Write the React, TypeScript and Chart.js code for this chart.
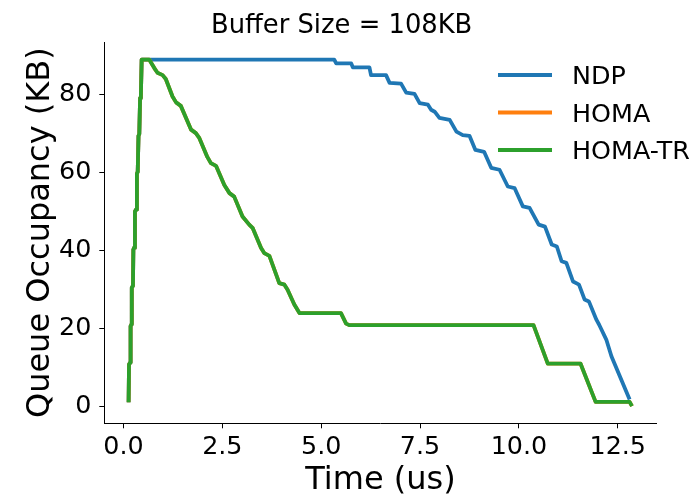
import React, { useEffect, useRef } from "react";
import { Chart, registerables } from "chart.js";

Chart.register(...registerables);

// ---- Data ----
const chartTitle = "Buffer Size = 108KB";
const xAxisTitle = "Time (us)";
const yAxisTitle = "Queue Occupancy (KB)";

const xTicks = [0, 2.5, 5, 7.5, 10, 12.5];
const xTickLabels = ["0.0", "2.5", "5.0", "7.5", "10.0", "12.5"];
const yTicks = [0, 20, 40, 60, 80];
const yTickLabels = ["0", "20", "40", "60", "80"];

const seriesLabels = ["NDP", "HOMA", "HOMA-TR"];
const seriesColors = ["#1f77b4", "#ff7f0e", "#2ca02c"];

// shared initial ramp (all three protocols fill the buffer identically)
const rampTime = [0.13, 0.14, 0.17, 0.18, 0.2, 0.21, 0.24, 0.25, 0.27, 0.29, 0.32, 0.34, 0.36, 0.38, 0.4, 0.42, 0.44, 0.46, 0.48];
const rampQueue = [1, 10.7, 11.2, 20.5, 21, 30.4, 30.9, 40.2, 40.7, 50, 50.5, 59.7, 60.2, 69.4, 69.9, 79.1, 79.6, 89, 89];

const ndpTime = [
  ...rampTime,
  5.33, 5.38, 5.76, 5.8, 6.22, 6.26, 6.64, 6.73, 7.02, 7.15, 7.36, 7.49, 7.7, 7.78, 7.87, 7.99,
  8.25, 8.42, 8.58, 8.75, 8.9, 9.12, 9.3, 9.51, 9.72, 9.89, 10.1, 10.27, 10.5, 10.66, 10.83,
  10.96, 11.08, 11.2, 11.37, 11.52, 11.66, 11.77, 11.96, 12.03, 12.21, 12.34, 12.8,
];
const ndpQueue = [
  ...rampQueue,
  89, 88, 88, 87, 87, 85, 85, 83, 82.8, 80.5, 80.2, 77.8, 77.4, 76.1, 75.6, 74,
  73.5, 70.5, 69.6, 69.4, 65.8, 65.3, 61.2, 60.7, 56.4, 56, 51.3, 50.9, 46.6, 46.1, 41.5,
  41, 37.2, 36.8, 32, 31.2, 27.4, 26.9, 22.2, 20.9, 17.1, 12.8, 1.7,
];

const homaTrTime = [
  ...rampTime,
  0.65, 0.78, 0.86, 0.99, 1.07, 1.24, 1.33, 1.45, 1.71, 1.83, 1.92, 2.12, 2.21, 2.34, 2.55,
  2.68, 2.8, 3.01, 3.18, 3.27, 3.48, 3.56, 3.69, 3.94, 4.07, 4.15, 4.32, 4.45, 5.5, 5.63,
  5.71, 10.37, 10.73, 11.56, 11.94, 12.8, 12.86,
];
const homaTrQueue = [
  ...rampQueue,
  89, 86.8, 85.6, 85, 84, 79.5, 78, 77.1, 71, 70.1, 68.8, 64, 62.4, 61.7, 56.8,
  54.7, 53.8, 48.7, 46.6, 45.7, 40.6, 39.3, 38.6, 31.6, 31.2, 29.9, 26.1, 23.9, 23.9, 21.2,
  20.8, 20.8, 10.9, 10.9, 1.1, 1.1, 0,
];

// HOMA coincides with HOMA-TR (fully hidden beneath it in the reference)
const homaTime = [...homaTrTime];
const homaQueue = [...homaTrQueue];

const FONT = "'DejaVu Sans', 'Noto Sans', sans-serif";

const toPoints = (xs: number[], ys: number[]) => xs.map((x, i) => ({ x, y: ys[i] }));

const overlayPlugin = {
  id: "overlay",
  afterDraw(chart: any) {
    const c = chart.ctx as CanvasRenderingContext2D;
    c.save();
    c.fillStyle = "#000";
    c.font = `25.8px ${FONT}`;
    c.textAlign = "left";
    c.textBaseline = "alphabetic";
    c.fillText(chartTitle, 211, 33);

    // legend (upper right, inside axes, no frame)
    c.font = `25.4px ${FONT}`;
    chart.data.datasets.forEach((ds: any, i: number) => {
      const y = 75 + i * 37.5;
      c.strokeStyle = ds.borderColor;
      c.lineWidth = 3.8;
      c.lineCap = "butt";
      c.beginPath();
      c.moveTo(498, y);
      c.lineTo(552, y);
      c.stroke();
      c.fillStyle = "#000";
      c.fillText(ds.label, 572, y + 9.3);
    });
    c.restore();
  },
};

export default function App() {
  const ref = useRef<HTMLCanvasElement>(null);

  useEffect(() => {
    document.body.style.margin = "0";
    const canvas = ref.current!;
    const seriesData = [
      toPoints(ndpTime, ndpQueue),
      toPoints(homaTime, homaQueue),
      toPoints(homaTrTime, homaTrQueue),
    ];
    const chart = new Chart(canvas, {
      type: "line",
      data: {
        datasets: seriesLabels.map((label, i) => ({
          label,
          data: seriesData[i],
          borderColor: seriesColors[i],
          backgroundColor: seriesColors[i],
          borderWidth: 3.8,
          pointRadius: 0,
          tension: 0,
          fill: false,
          borderJoinStyle: "round" as const,
          order: 3 - i,
        })),
      },
      options: {
        responsive: false,
        animation: false,
        events: [],
        layout: { padding: { top: 42, right: 39.3, bottom: 0, left: 0 } },
        plugins: {
          legend: { display: false },
          title: { display: false },
          tooltip: { enabled: false },
        },
        scales: {
          x: {
            type: "linear",
            min: -0.485,
            max: 13.485,
            afterFit: (s: any) => {
              s.height = 73.7;
            },
            afterBuildTicks: (s: any) => {
              s.ticks = xTicks.map((v) => ({ value: v }));
            },
            ticks: {
              callback: (_v: any, i: number) => xTickLabels[i],
              font: { family: FONT, size: 25.4 },
              color: "#000",
              padding: 4,
              maxRotation: 0,
              autoSkip: false,
            },
            grid: {
              drawOnChartArea: false,
              drawTicks: true,
              tickLength: 5,
              color: "#000",
              lineWidth: 1,
            },
            border: { display: true, color: "#000", width: 1 },
            title: {
              display: true,
              text: xAxisTitle,
              color: "#000",
              font: { family: FONT, size: 32, lineHeight: 1 },
              padding: { top: 0, bottom: 0 },
            },
          },
          y: {
            type: "linear",
            min: -4.4,
            max: 93.5,
            afterFit: (s: any) => {
              s.width = 104.3;
            },
            afterBuildTicks: (s: any) => {
              s.ticks = yTicks.map((v) => ({ value: v }));
            },
            ticks: {
              callback: (_v: any, i: number) => yTickLabels[i],
              font: { family: FONT, size: 25.4 },
              color: "#000",
              padding: 8,
              autoSkip: false,
            },
            grid: {
              drawOnChartArea: false,
              drawTicks: true,
              tickLength: 5,
              color: "#000",
              lineWidth: 1,
            },
            border: { display: true, color: "#000", width: 1 },
            title: {
              display: true,
              text: yAxisTitle,
              color: "#000",
              font: { family: FONT, size: 32, lineHeight: 1 },
              padding: { top: 24.5, bottom: 0 },
            },
          },
        },
      },
      plugins: [overlayPlugin],
    });
    return () => chart.destroy();
  }, []);

  return (
    <div style={{ width: 696, height: 497 }}>
      <canvas ref={ref} width={696} height={497} style={{ display: "block", width: 696, height: 497 }} />
    </div>
  );
}
